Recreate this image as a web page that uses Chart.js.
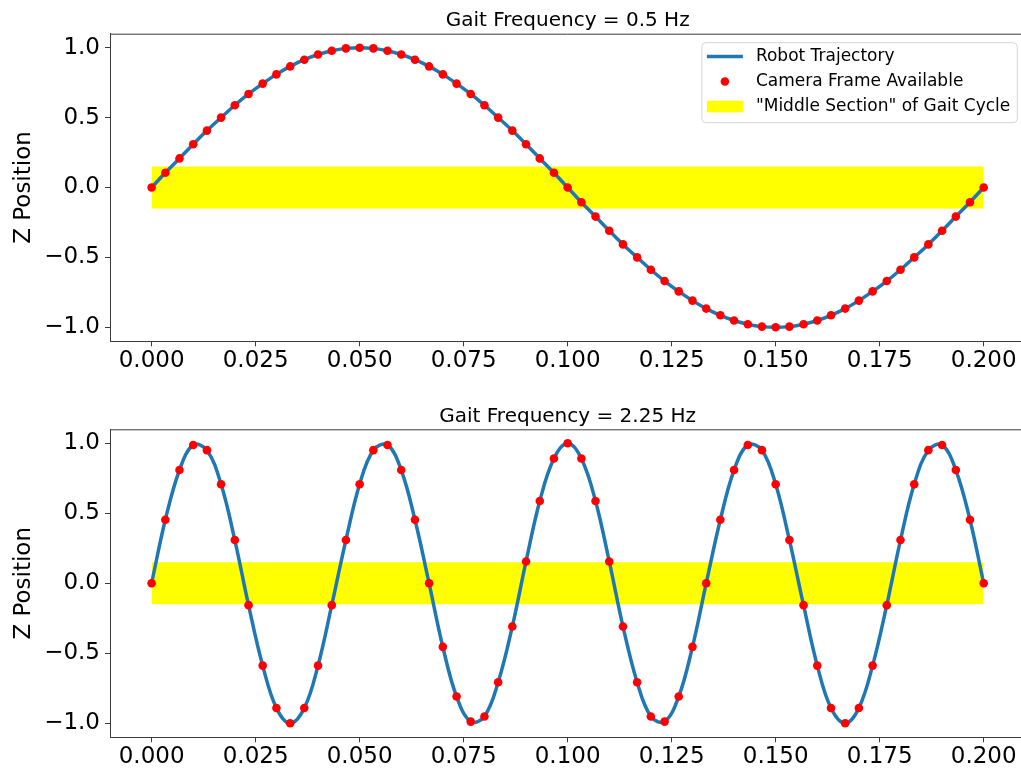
<!DOCTYPE html>
<html><head><meta charset="utf-8">
<script src="https://cdn.jsdelivr.net/npm/chart.js@4/dist/chart.umd.min.js"></script>
<style>
html,body{margin:0;padding:0;background:#fff;overflow:hidden;width:1021px;height:770px;position:relative;}
.wrap{position:absolute;left:0;width:1030px;height:385px;overflow:visible;}
#w1{top:0}
#w2{top:385px}
canvas{display:block}
</style></head><body>
<div class="wrap" id="w1"><canvas id="c1" width="1030" height="385"></canvas></div>
<div class="wrap" id="w2"><canvas id="c2" width="1030" height="385"></canvas></div>
<script>
// Sample times (s) of the camera frames
const timeS = [0.0000,0.0033,0.0067,0.0100,0.0133,0.0167,0.0200,0.0233,0.0267,0.0300,
  0.0333,0.0367,0.0400,0.0433,0.0467,0.0500,0.0533,0.0567,0.0600,0.0633,
  0.0667,0.0700,0.0733,0.0767,0.0800,0.0833,0.0867,0.0900,0.0933,0.0967,
  0.1000,0.1033,0.1067,0.1100,0.1133,0.1167,0.1200,0.1233,0.1267,0.1300,
  0.1333,0.1367,0.1400,0.1433,0.1467,0.1500,0.1533,0.1567,0.1600,0.1633,
  0.1667,0.1700,0.1733,0.1767,0.1800,0.1833,0.1867,0.1900,0.1933,0.1967,0.2000];
// Z position, gait frequency 0.5 Hz panel
const zTop = [0,0.105,0.208,0.309,0.407,0.5,0.588,0.669,0.743,0.809,
  0.866,0.914,0.951,0.978,0.995,1,0.995,0.978,0.951,0.914,
  0.866,0.809,0.743,0.669,0.588,0.5,0.407,0.309,0.208,0.105,
  0,-0.105,-0.208,-0.309,-0.407,-0.5,-0.588,-0.669,-0.743,-0.809,
  -0.866,-0.914,-0.951,-0.978,-0.995,-1,-0.995,-0.978,-0.951,-0.914,
  -0.866,-0.809,-0.743,-0.669,-0.588,-0.5,-0.407,-0.309,-0.208,-0.105,0];
// Z position, gait frequency 2.25 Hz panel
const zBottom = [0,0.454,0.809,0.988,0.951,0.707,0.309,-0.156,-0.588,-0.891,
  -1,-0.891,-0.588,-0.156,0.309,0.707,0.951,0.988,0.809,0.454,
  0,-0.454,-0.809,-0.988,-0.951,-0.707,-0.309,0.156,0.588,0.891,
  1,0.891,0.588,0.156,-0.309,-0.707,-0.951,-0.988,-0.809,-0.454,
  0,0.454,0.809,0.988,0.951,0.707,0.309,-0.156,-0.588,-0.891,
  -1,-0.891,-0.588,-0.156,0.309,0.707,0.951,0.988,0.809,0.454,0];
// "Middle section" band
const bandX = [0, 0.2];
const bandUpper = [0.15, 0.15];
const bandLower = [-0.15, -0.15];
// Ticks
const xTicks = [0, 0.025, 0.05, 0.075, 0.1, 0.125, 0.15, 0.175, 0.2];
const yTicks = [-1, -0.5, 0, 0.5, 1];
const panelTitles = ['Gait Frequency = 0.5 Hz', 'Gait Frequency = 2.25 Hz'];
const legendLabels = ['Robot Trajectory', 'Camera Frame Available', '"Middle Section" of Gait Cycle'];
const yLabel = 'Z Position';

const FONT = "'DejaVu Sans', 'Liberation Sans', sans-serif";
Chart.defaults.font.family = FONT;
const LINE_COLOR = '#1f77b4';
const DOT_COLOR = '#ff0000';
const BAND_COLOR = '#ffff00';
const SPINE = '#3a3a3a';

// top spine (the right spine lies just outside the visible picture)
const spinesPlugin = {
  id: 'spines',
  afterDraw(chart) {
    const {ctx, chartArea: a} = chart;
    ctx.save();
    ctx.strokeStyle = SPINE;
    ctx.lineWidth = 1;
    ctx.beginPath();
    ctx.moveTo(a.left, a.top + 0.5);
    ctx.lineTo(a.right, a.top + 0.5);
    ctx.stroke();
    ctx.restore();
  }
};

const legendPlugin = {
  id: 'boxLegend',
  afterDraw(chart, args, opts) {
    if (!opts.show) return;
    const {ctx, chartArea: a} = chart;
    ctx.save();
    ctx.font = '17px ' + FONT;
    let maxW = 0;
    legendLabels.forEach(t => { maxW = Math.max(maxW, ctx.measureText(t).width); });
    const w = 5 + 36 + 13 + maxW + 7;
    const h = 80;
    const right = a.right - 8;
    const x0 = right - w, y0 = a.top + 9;
    ctx.beginPath();
    const r = 4;
    ctx.moveTo(x0 + r, y0);
    ctx.arcTo(x0 + w, y0, x0 + w, y0 + h, r);
    ctx.arcTo(x0 + w, y0 + h, x0, y0 + h, r);
    ctx.arcTo(x0, y0 + h, x0, y0, r);
    ctx.arcTo(x0, y0, x0 + w, y0, r);
    ctx.closePath();
    ctx.fillStyle = 'rgba(255,255,255,0.8)';
    ctx.fill();
    ctx.strokeStyle = '#d6d6d6';
    ctx.lineWidth = 1;
    ctx.stroke();
    const rows = [y0 + 13.8, y0 + 38.8, y0 + 63.8];
    const hx = x0 + 5;
    ctx.strokeStyle = LINE_COLOR; ctx.lineWidth = 3.5;
    ctx.beginPath(); ctx.moveTo(hx, rows[0]); ctx.lineTo(hx + 36, rows[0]); ctx.stroke();
    ctx.fillStyle = DOT_COLOR;
    ctx.beginPath(); ctx.arc(hx + 18, rows[1], 4.3, 0, Math.PI * 2); ctx.fill();
    ctx.fillStyle = BAND_COLOR;
    ctx.fillRect(hx, rows[2] - 5.8, 36, 11.6);
    ctx.fillStyle = '#000';
    ctx.textBaseline = 'middle';
    ctx.textAlign = 'left';
    legendLabels.forEach((t, i) => ctx.fillText(t, hx + 49, rows[i]));
    ctx.restore();
  }
};

function fmtY(v) {
  const s = Math.abs(v).toFixed(1);
  return v < 0 ? '\u2212' + s : s;
}

function makeChart(id, z, title, showLegend, padTop, padBottom) {
  const pts = timeS.map((t, i) => ({x: t, y: z[i]}));
  return new Chart(document.getElementById(id), {
    type: 'line',
    data: {
      datasets: [
        {label: 'bandUpper', data: bandX.map((x, i) => ({x, y: bandUpper[i]})),
          borderColor: 'rgba(0,0,0,0)', borderWidth: 0, pointRadius: 0, backgroundColor: BAND_COLOR, fill: '+1', order: 3},
        {label: 'bandLower', data: bandX.map((x, i) => ({x, y: bandLower[i]})),
          borderColor: 'rgba(0,0,0,0)', borderWidth: 0, pointRadius: 0, fill: false, order: 4},
        {label: legendLabels[0], data: pts, borderColor: LINE_COLOR, borderWidth: 3.5,
          pointRadius: 0, tension: 0.38, fill: false, order: 2, borderCapStyle: 'round'},
        {label: legendLabels[1], data: pts, showLine: false, pointRadius: 4.3,
          pointBackgroundColor: DOT_COLOR, pointBorderWidth: 0, pointBorderColor: DOT_COLOR, order: 1}
      ]
    },
    options: {
      responsive: false,
      animation: false,
      devicePixelRatio: 1,
      layout: {autoPadding: false, padding: {top: padTop, left: 0, right: 4.7, bottom: padBottom}},
      plugins: {
        legend: {display: false},
        tooltip: {enabled: false},
        title: {display: true, text: title, fullSize: false, color: '#000',
          font: {size: 20, weight: 'normal', family: FONT, lineHeight: 1.2},
          padding: {top: 8.8, bottom: 0.9}},
        boxLegend: {show: showLegend}
      },
      scales: {
        x: {
          type: 'linear', min: -0.01, max: 0.21,
          afterBuildTicks: s => { s.ticks = xTicks.map(v => ({value: v})); },
          afterFit: s => { s.height = 32; s.paddingLeft = 0; s.paddingRight = 0; },
          ticks: {font: {size: 23, family: FONT}, color: '#000', padding: 1,
            maxRotation: 0, minRotation: 0, autoSkip: false, callback: v => Number(v).toFixed(3)},
          grid: {display: true, drawOnChartArea: false, drawTicks: true, tickLength: 5,
            tickColor: SPINE, tickWidth: 1},
          border: {display: true, color: SPINE, width: 1}
        },
        y: {
          type: 'linear', min: -1.1, max: 1.1,
          afterBuildTicks: s => { s.ticks = yTicks.map(v => ({value: v})); },
          afterFit: s => { s.width = 110; s.paddingTop = 0; s.paddingBottom = 0; },
          ticks: {font: {size: 23, family: FONT}, color: '#000', padding: 5,
            autoSkip: false, callback: v => fmtY(v)},
          grid: {display: true, drawOnChartArea: false, drawTicks: true, tickLength: 5,
            tickColor: SPINE, tickWidth: 1},
          border: {display: true, color: SPINE, width: 1},
          title: {display: true, text: yLabel, color: '#000',
            font: {size: 23, family: FONT, lineHeight: 1.2}, padding: {top: 10.5, bottom: 0}}
        }
      }
    },
    plugins: [spinesPlugin, legendPlugin]
  });
}

makeChart('c1', zTop, panelTitles[0], true, 0, 11.7);
makeChart('c2', zBottom, panelTitles[1], false, 10.6, 0.7);
</script>
</body></html>
